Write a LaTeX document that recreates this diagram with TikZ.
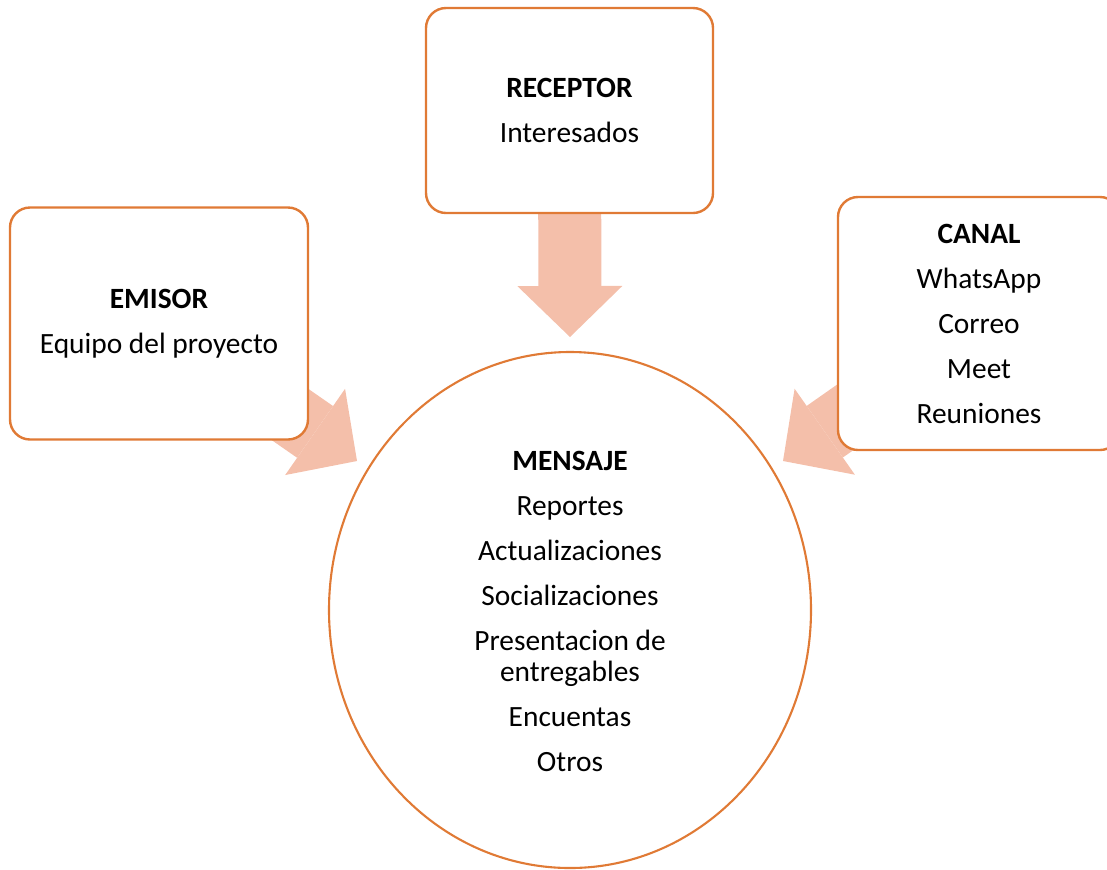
\documentclass[tikz,border=0pt]{standalone}
\usepackage{fontspec}
\setmainfont{Carlito}
\usetikzlibrary{arrows.meta,backgrounds,shapes.geometric}
\definecolor{cmink}{HTML}{000000}
\definecolor{cmorange}{HTML}{E07A35}
\definecolor{cmsalmon}{HTML}{F4BFAA}
\tikzset{
  cm text/.style={font=\fontsize{14.7pt}{15.5pt}\selectfont, text=cmink},
  cm box/.style={draw=cmorange, line width=1.2pt, rounded corners=10pt, fill=white,
    align=center, inner sep=0pt},
  cm oval/.style={ellipse, draw=cmorange, line width=1.05pt, fill=white, inner sep=0pt,
    minimum width=241pt, minimum height=258pt},
  cm flow/.style={-{Triangle[length=25.5pt,width=52.5pt,line width=0pt]},
    line width=31.5pt, draw=cmsalmon, line cap=butt},
  cm note/.style={align=center, inner sep=0pt}
}

\begin{document}
\begin{tikzpicture}[cm text, x=0.5pt, y=-0.5pt]
  \useasboundingbox (0,0) rectangle (1107,869);
  \node[cm box, minimum width=143.5pt, minimum height=102.5pt] (receptor) at (569.5,110.5)
    {\textbf{RECEPTOR}\\[7pt]Interesados};
  \node[cm box, minimum width=149pt, minimum height=116pt] (emisor) at (159,323.5)
    {\textbf{EMISOR}\\[7pt]Equipo del proyecto};
  \node[cm box, minimum width=141pt, minimum height=126.5pt] (canal) at (979,323.5)
    {\textbf{CANAL}\\[7pt]WhatsApp\\[7pt]Correo\\[7pt]Meet\\[7pt]Reuniones};
  \node[cm oval] (mensaje) at (570,610) {};
  \node[cm note] (mensaje text) at (570,611)
    {\textbf{MENSAJE}\\[7pt]Reportes\\[7pt]Actualizaciones\\[7pt]Socializaciones\\[7pt]%
     Presentacion de\\entregables\\[7pt]Encuentas\\[7pt]Otros};
  \coordinate (receptor tip) at (570,337);
  \coordinate (emisor tip) at (357,461);
  \coordinate (canal tip) at (783,461);
  \begin{scope}[on background layer]
    \draw[cm flow] (receptor.center) -- (receptor tip);
    \draw[cm flow] (emisor.center) -- (emisor tip);
    \draw[cm flow] (canal.center) -- (canal tip);
  \end{scope}
\end{tikzpicture}
\end{document}
